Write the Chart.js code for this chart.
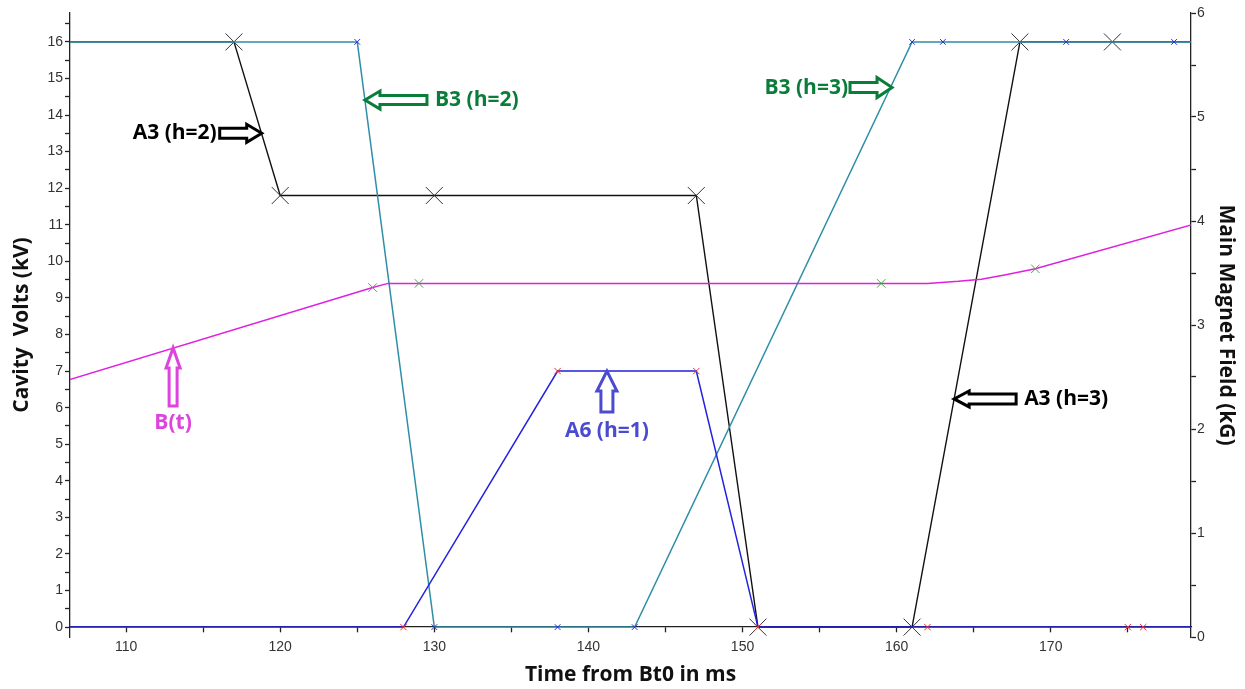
<!DOCTYPE html>
<html>
<head>
<meta charset="utf-8">
<script src="https://cdn.jsdelivr.net/npm/chart.js@4.4.0/dist/chart.umd.min.js"></script>
<style>
  html, body { margin: 0; padding: 0; background: #fff; }
  #wrap { width: 1245px; height: 689px; }
</style>
</head>
<body>
<div id="wrap"><canvas id="rf-chart"></canvas></div>
<script>
// cavity voltage program vs. time from Bt0, main field on the right axis

// A3 cavity (h=2 then h=3), kV
const a3Times = [100, 117, 120, 130, 147, 151, 161, 168, 174, 185];
const a3Volts = [16, 16, 11.8, 11.8, 11.8, 0, 0, 16, 16, 16];

// B3 cavity (h=2 then h=3), kV
const b3Times = [100, 125, 130, 138, 143, 161, 163, 171, 178, 185];
const b3Volts = [16, 16, 0, 0, 0, 16, 16, 16, 16, 16];

// A6 cavity (h=1), kV
const a6Times = [100, 128, 138, 147, 151, 162, 175, 176, 185];
const a6Volts = [0, 0, 7, 7, 0, 0, 0, 0, 0];

// main magnet field B(t), kG
const bTimes = [100, 126, 127, 129, 159, 162, 164, 165.5, 167, 169, 180];
const bField = [2.19, 3.36, 3.40, 3.40, 3.40, 3.40, 3.42, 3.44, 3.48, 3.54, 4.00];
const bMarked = [126, 129, 159, 169];

// axis ticks
const timeTicks = [110, 115, 120, 125, 130, 135, 140, 145, 150, 155, 160, 165, 170, 175];
const voltTicks = [];
for (let v = 0; v <= 16.5; v += 0.5) voltTicks.push(v);
const fieldTicks = [0, 0.5, 1, 1.5, 2, 2.5, 3, 3.5, 4, 4.5, 5, 5.5, 6];

// labelled arrows: tip sits on a curve, given in data units
const arrows = [
  { text: 'A3 (h=2)', color: '#000000', x: 118.8, y: 13.5, axis: 'y', dir: 'right', len: 42, head: 15, hh: 9, sh: 5, gap: 3 },
  { text: 'B3 (h=2)', color: '#0b7d3a', x: 125.5, y: 14.41, axis: 'y', dir: 'left', len: 62, head: 15, hh: 9, sh: 4.5, gap: 8 },
  { text: 'B3 (h=3)', color: '#0b7d3a', x: 159.7, y: 14.75, axis: 'y', dir: 'right', len: 42, head: 15, hh: 10, sh: 5, gap: 2 },
  { text: 'A3 (h=3)', color: '#000000', x: 163.73, y: 6.24, axis: 'y', dir: 'left', len: 62, head: 15, hh: 8, sh: 5, gap: 8 },
  { text: 'A6 (h=1)', color: '#4b4bd0', x: 141.2, y: 7, axis: 'y', dir: 'up', len: 41, head: 20, hh: 10, sh: 6, gap: 19 },
  { text: 'B(t)', color: '#dd44dd', x: 113.05, y: 2.78, axis: 'y2', dir: 'up', len: 58, head: 20, hh: 7, sh: 4, gap: 17 }
];

const pts = (xs, ys) => xs.map((x, i) => ({ x: x, y: ys[i] }));

const arrowPlugin = {
  id: 'arrowNotes',
  afterDatasetsDraw(chart) {
    const ctx = chart.ctx;
    const sx = chart.scales.x;
    arrows.forEach(a => {
      const tx = sx.getPixelForValue(a.x);
      const ty = chart.scales[a.axis].getPixelForValue(a.y);
      const ang = a.dir === 'right' ? 0 : a.dir === 'left' ? Math.PI : -Math.PI / 2;
      ctx.save();
      ctx.translate(tx, ty);
      ctx.rotate(ang);
      ctx.beginPath();
      ctx.moveTo(-a.len, -a.sh);
      ctx.lineTo(-a.head, -a.sh);
      ctx.lineTo(-a.head, -a.hh);
      ctx.lineTo(0, 0);
      ctx.lineTo(-a.head, a.hh);
      ctx.lineTo(-a.head, a.sh);
      ctx.lineTo(-a.len, a.sh);
      ctx.closePath();
      ctx.fillStyle = '#fff';
      ctx.fill();
      ctx.lineWidth = 3;
      ctx.lineJoin = 'miter';
      ctx.strokeStyle = a.color;
      ctx.stroke();
      ctx.restore();

      ctx.save();
      ctx.font = 'bold 21px "Open Sans"';
      ctx.fillStyle = a.color;
      ctx.textBaseline = 'middle';
      if (a.dir === 'right') {
        ctx.textAlign = 'right';
        ctx.fillText(a.text, tx - a.len - a.gap, ty);
      } else if (a.dir === 'left') {
        ctx.textAlign = 'left';
        ctx.fillText(a.text, tx + a.len + a.gap, ty);
      } else {
        ctx.textAlign = 'center';
        ctx.fillText(a.text, tx, ty + a.len + a.gap);
      }
      ctx.restore();
    });
  }
};

Chart.defaults.font.family = '"Liberation Sans", Arial, sans-serif';
Chart.defaults.font.size = 14;
Chart.defaults.color = '#333';

const axisColor = '#222';
const titleFont = { family: '"Open Sans"', size: 21, weight: 'bold' };

new Chart(document.getElementById('rf-chart'), {
  type: 'line',
  data: {
    datasets: [
      {
        label: 'B(t)',
        data: pts(bTimes, bField),
        yAxisID: 'y2',
        borderColor: '#e020e0',
        borderWidth: 1.5,
        pointStyle: 'crossRot',
        pointRadius: c => bMarked.includes(bTimes[c.dataIndex]) ? 6 : 0,
        pointBorderColor: '#45a845',
        pointBorderWidth: 1
      },
      {
        label: 'A6 (h=1)',
        data: pts(a6Times, a6Volts),
        yAxisID: 'y',
        borderColor: '#2222dd',
        borderWidth: 1.5,
        pointStyle: 'crossRot',
        pointRadius: 4.5,
        pointBorderColor: '#e83030',
        pointBorderWidth: 1
      },
      {
        label: 'B3',
        data: pts(b3Times, b3Volts),
        yAxisID: 'y',
        borderColor: '#2d8ea6',
        borderWidth: 1.5,
        pointStyle: 'crossRot',
        pointRadius: 4,
        pointBorderColor: '#2a2ae0',
        pointBorderWidth: 1
      },
      {
        label: 'A3',
        data: pts(a3Times, a3Volts),
        yAxisID: 'y',
        borderColor: '#111',
        borderWidth: 1.4,
        pointStyle: 'crossRot',
        pointRadius: 12,
        pointBorderColor: '#333',
        pointBorderWidth: 1
      }
    ]
  },
  options: {
    responsive: true,
    maintainAspectRatio: false,
    animation: false,
    // the time axis sits on 0 kV, so its room below the plot is kept here
    layout: { padding: { top: 13, left: 0, right: 0, bottom: 52 } },
    plugins: { legend: { display: false }, tooltip: { enabled: false } },
    elements: { line: { tension: 0 } },
    scales: {
      x: {
        type: 'linear',
        position: { y: 0 },
        min: 106.36,
        max: 179.1,
        afterFit: s => { s.height = 52; },
        afterBuildTicks: s => { s.ticks = timeTicks.map(v => ({ value: v })); },
        ticks: {
          autoSkip: false,
          maxRotation: 0,
          padding: 7,
          callback: v => (v % 10 === 0 ? v : '')
        },
        grid: { drawOnChartArea: false, tickLength: 5, color: axisColor, tickWidth: 1.3 },
        border: { color: axisColor, width: 1.3 },
        title: { display: true, text: 'Time from Bt0 in ms', color: '#111', font: titleFont, padding: { top: 0, bottom: -8.6 } }
      },
      y: {
        type: 'linear',
        position: 'left',
        min: -0.27,
        max: 16.79,
        afterFit: s => { s.width = 70; },
        afterBuildTicks: s => { s.ticks = voltTicks.map(v => ({ value: v })); },
        ticks: {
          autoSkip: false,
          padding: 2,
          callback: v => (Number.isInteger(v) ? v : '')
        },
        grid: { drawOnChartArea: false, tickLength: 5, color: axisColor, tickWidth: 1.3 },
        border: { color: axisColor, width: 1.3 },
        title: { display: true, text: 'Cavity  Volts (kV)', color: '#111', font: titleFont, padding: { top: 9.4, bottom: 0 } }
      },
      y2: {
        type: 'linear',
        position: 'right',
        min: 0,
        max: 6,
        afterFit: s => { s.width = 54; },
        afterBuildTicks: s => { s.ticks = fieldTicks.map(v => ({ value: v })); },
        ticks: {
          autoSkip: false,
          padding: 1,
          callback: v => (Number.isInteger(v) ? v : '')
        },
        grid: { drawOnChartArea: false, tickLength: 5, color: axisColor, tickWidth: 1.3 },
        border: { color: axisColor, width: 1.3 },
        title: { display: true, text: 'Main Magnet Field (kG)', color: '#111', font: titleFont, padding: { top: 6.4, bottom: 0 } }
      }
    }
  },
  plugins: [arrowPlugin]
});
</script>
</body>
</html>
